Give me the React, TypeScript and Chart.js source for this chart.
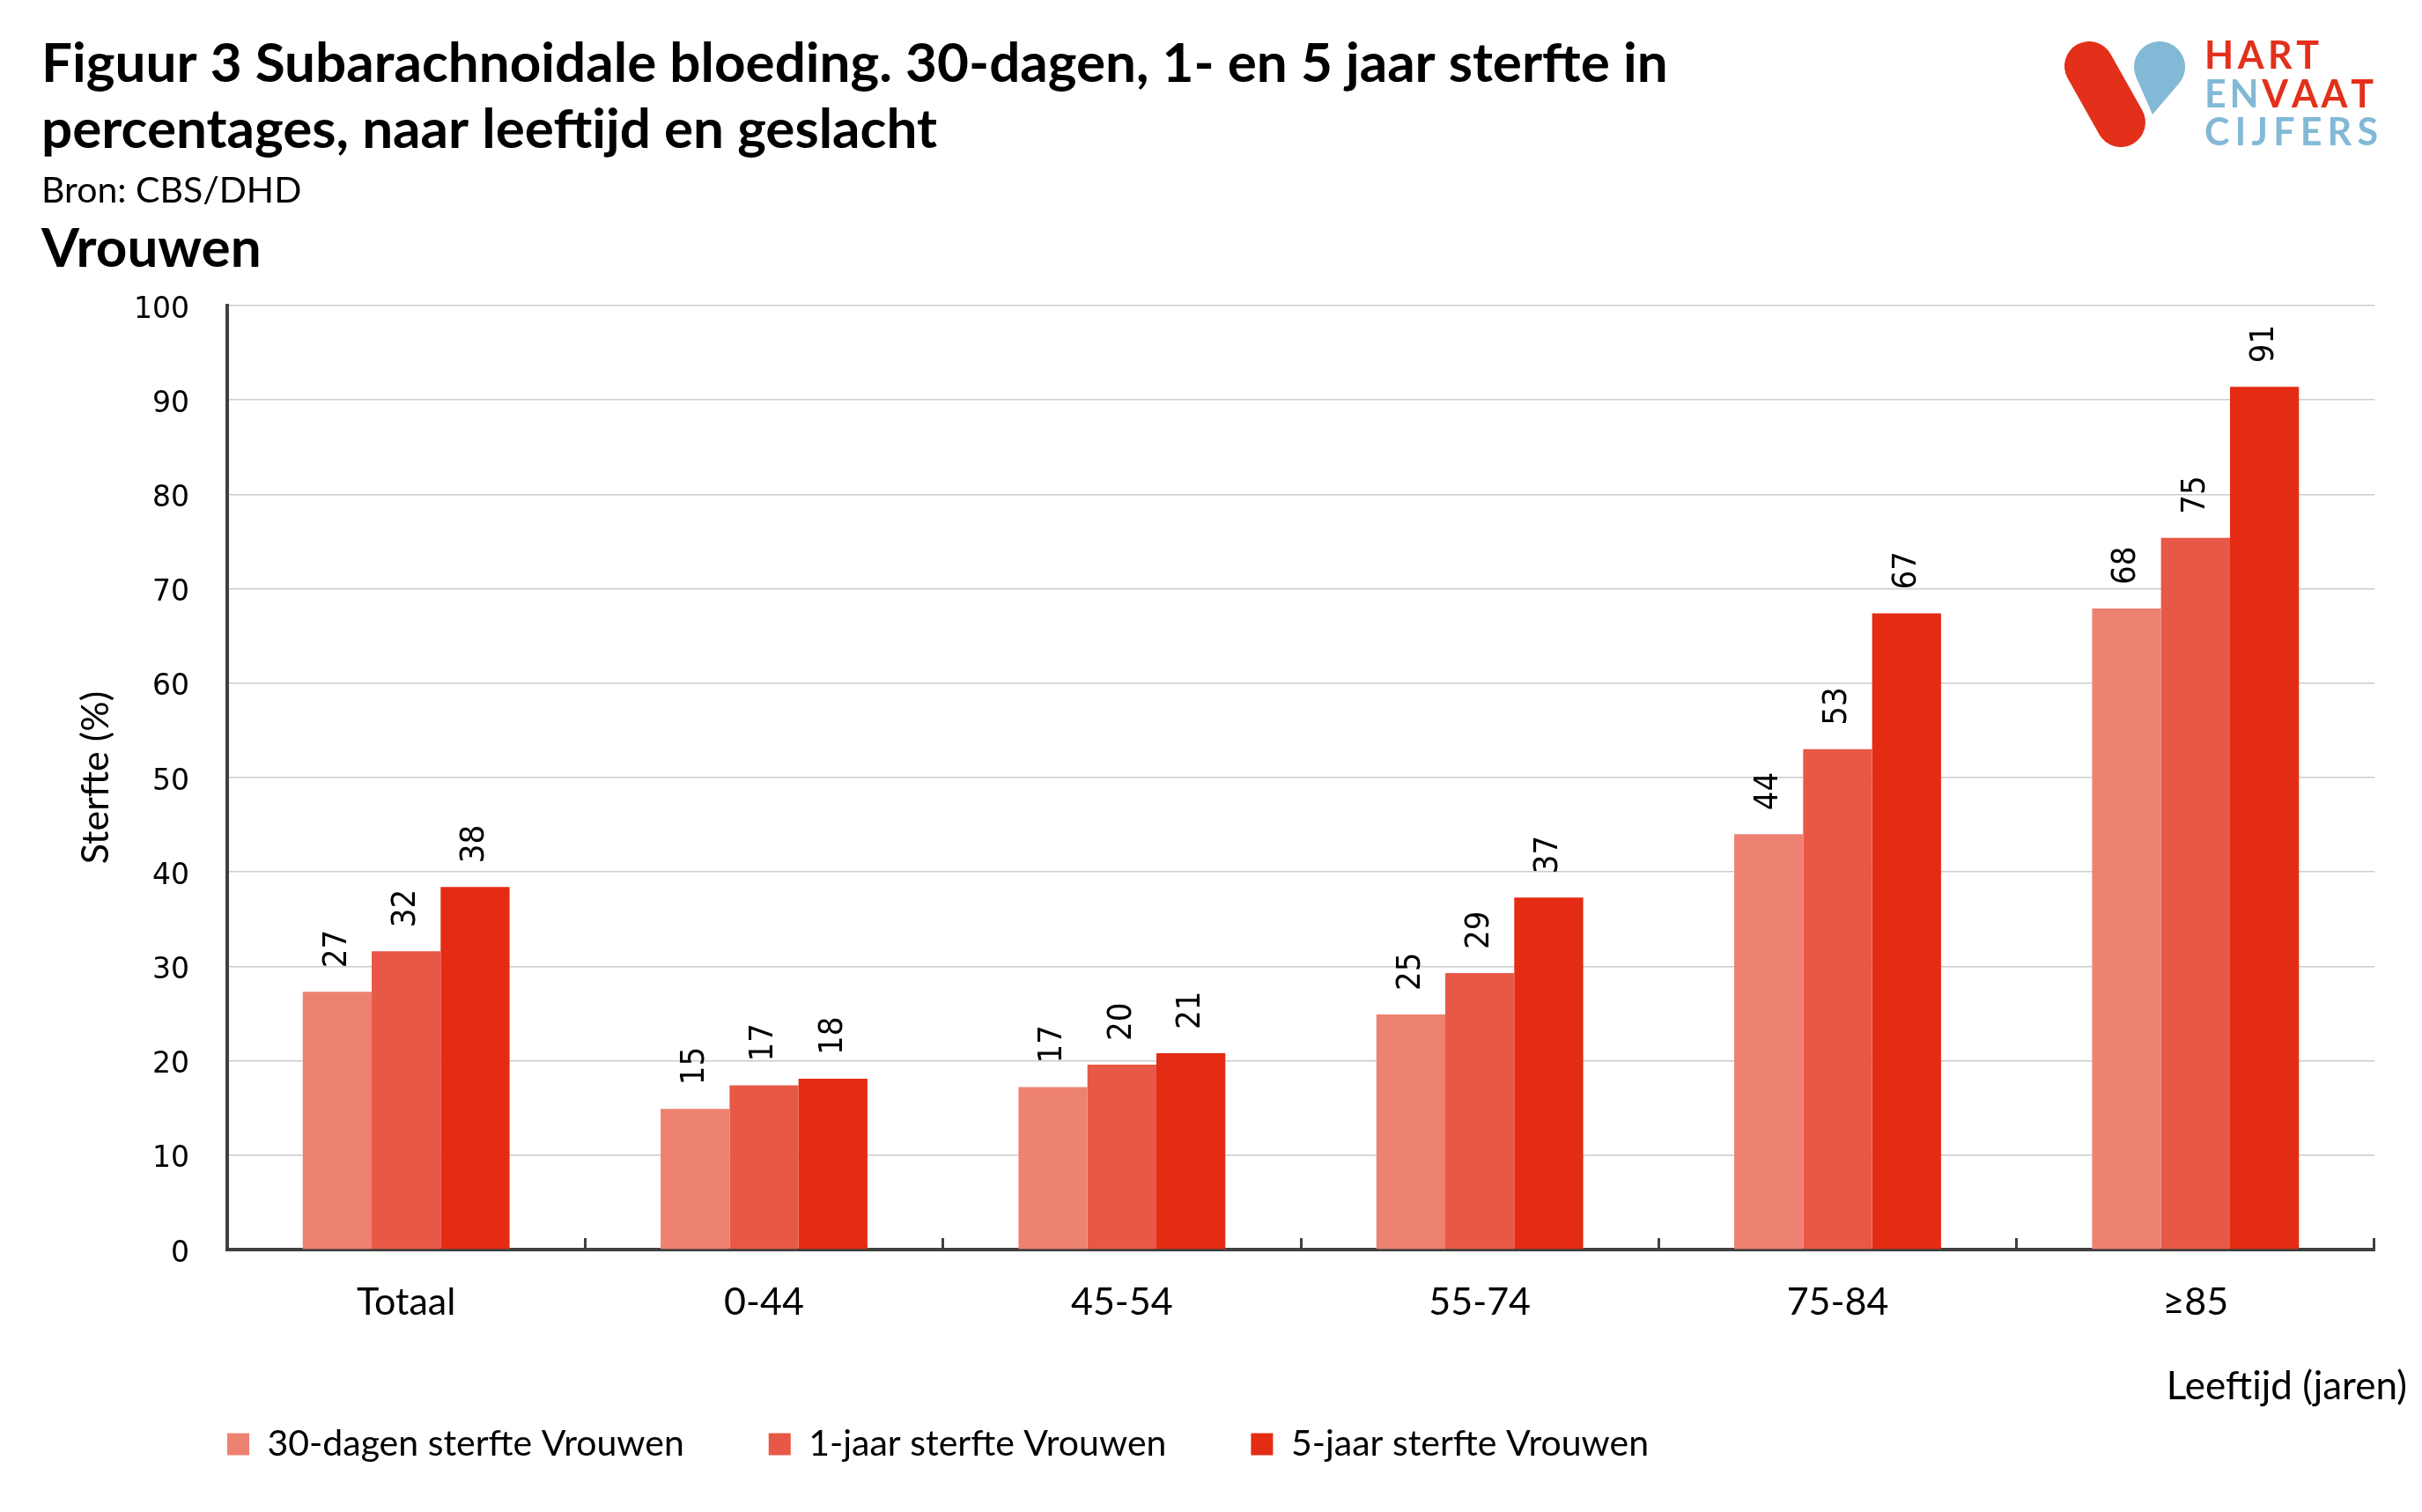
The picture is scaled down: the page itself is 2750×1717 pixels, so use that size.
import React, { useEffect, useRef } from 'react';
import { Chart, registerables } from 'chart.js';

Chart.register(...registerables);

const titleLines = [
  'Figuur 3 Subarachnoidale bloeding. 30-dagen, 1- en 5 jaar sterfte in',
  'percentages, naar leeftijd en geslacht',
];
const sourceText = 'Bron: CBS/DHD';
const subTitle = 'Vrouwen';
const yAxisTitle = 'Sterfte (%)';
const xAxisTitle = 'Leeftijd (jaren)';

const categories = ['Totaal', '0-44', '45-54', '55-74', '75-84', '≥85'];
const sterfte30Dagen = [27.3, 14.9, 17.2, 24.9, 44.0, 67.9];
const sterfte1Jaar = [31.6, 17.4, 19.6, 29.3, 53.0, 75.4];
const sterfte5Jaar = [38.4, 18.1, 20.8, 37.3, 67.4, 91.4];
const seriesLabels = ['30-dagen sterfte Vrouwen', '1-jaar sterfte Vrouwen', '5-jaar sterfte Vrouwen'];
const seriesColors = ['#EE8272', '#E85846', '#E42C14'];

const FONT = 'Lato, "Open Sans", sans-serif';
const NUM_FONT = '"DejaVu Sans", sans-serif';
const LABEL_FONT = '"DejaVu Sans Condensed", "DejaVu Sans", sans-serif';

const LEGEND_FONT_SIZE = 41;
const LEGEND_PADDING = 96;

function drawSpaced(ctx: CanvasRenderingContext2D, parts: [string, string][], x: number, baseline: number, width: number) {
  const chars: [string, string][] = [];
  parts.forEach(([t, c]) => t.split('').forEach((ch) => chars.push([ch, c])));
  const widths = chars.map(([ch]) => ctx.measureText(ch).width);
  const total = widths.reduce((a, b) => a + b, 0);
  const gap = chars.length > 1 ? (width - total) / (chars.length - 1) : 0;
  let cx = x;
  chars.forEach(([ch, c], i) => {
    ctx.fillStyle = c;
    ctx.fillText(ch, cx, baseline);
    cx += widths[i] + gap;
  });
}

const headerPlugin = {
  id: 'header',
  afterDraw(chart: any) {
    const ctx: CanvasRenderingContext2D = chart.ctx;
    ctx.save();
    ctx.textAlign = 'left';
    ctx.textBaseline = 'alphabetic';
    ctx.fillStyle = '#000';
    ctx.font = `bold 62px ${FONT}`;
    ctx.fillText(titleLines[0], 47, 93);
    ctx.fillText(titleLines[1], 47, 168);
    ctx.font = `41px ${FONT}`;
    ctx.fillText(sourceText, 47, 230);
    ctx.font = `bold 62px ${FONT}`;
    ctx.fillText(subTitle, 47, 303);

    // x axis title
    ctx.font = `44px ${FONT}`;
    ctx.textAlign = 'right';
    ctx.fillText(xAxisTitle, 2733, 1589);

    // logo
    const red = '#E3301B';
    const blue = '#82B9D6';
    ctx.strokeStyle = red;
    ctx.lineCap = 'round';
    ctx.lineWidth = 56;
    ctx.beginPath();
    ctx.moveTo(2372, 75);
    ctx.lineTo(2408, 139);
    ctx.stroke();

    const cx = 2452, cy = 76, r = 29, tx = 2444, ty = 130;
    const dx = tx - cx, dy = ty - cy;
    const d = Math.sqrt(dx * dx + dy * dy);
    const base = Math.atan2(dy, dx);
    const off = Math.PI / 2 - Math.asin(r / d);
    ctx.fillStyle = blue;
    ctx.beginPath();
    ctx.moveTo(tx, ty);
    ctx.arc(cx, cy, r, base + off, base - off + Math.PI * 2, false);
    ctx.closePath();
    ctx.fill();

    ctx.textAlign = 'left';
    ctx.font = `bold 43px ${FONT}`;
    drawSpaced(ctx, [['HART', red]], 2503, 78, 130);
    drawSpaced(ctx, [['EN', blue], ['VAAT', red]], 2503, 122, 192);
    drawSpaced(ctx, [['CIJFERS', blue]], 2503, 165, 197);
    ctx.restore();
  },
};

const valueLabelPlugin = {
  id: 'valueLabels',
  afterDatasetsDraw(chart: any) {
    const ctx: CanvasRenderingContext2D = chart.ctx;
    chart.data.datasets.forEach((ds: any, i: number) => {
      const meta = chart.getDatasetMeta(i);
      meta.data.forEach((bar: any, j: number) => {
        const v = ds.data[j];
        ctx.save();
        ctx.translate(bar.x, bar.y - 27);
        ctx.rotate(-Math.PI / 2);
        ctx.font = `38px ${LABEL_FONT}`;
        ctx.fillStyle = '#000';
        ctx.textAlign = 'left';
        ctx.textBaseline = 'middle';
        ctx.fillText(String(Math.round(v)), 0, 0);
        ctx.restore();
      });
    });
  },
};

const legendShiftPlugin = {
  id: 'legendShift',
  afterLayout(chart: any) {
    const l = chart.legend;
    if (!l) return;
    const dx = 258 - (l.left + LEGEND_PADDING);
    l.left += dx;
    l.right += dx;
    const dy = (1640 - LEGEND_PADDING - LEGEND_FONT_SIZE / 2) - l.top;
    l.top += dy;
    l.bottom += dy;
  },
};

export default function App() {
  const ref = useRef<HTMLCanvasElement | null>(null);

  useEffect(() => {
    document.body.style.margin = '0';
    document.body.style.overflow = 'hidden';
    const canvas = ref.current;
    if (!canvas) return;
    const chart = new Chart(canvas, {
      type: 'bar',
      data: {
        labels: categories,
        datasets: [
          { label: seriesLabels[0], data: sterfte30Dagen, backgroundColor: seriesColors[0], borderWidth: 0 },
          { label: seriesLabels[1], data: sterfte1Jaar, backgroundColor: seriesColors[1], borderWidth: 0 },
          { label: seriesLabels[2], data: sterfte5Jaar, backgroundColor: seriesColors[2], borderWidth: 0 },
        ],
      },
      options: {
        responsive: false,
        animation: false,
        devicePixelRatio: 1,
        layout: { padding: { left: 47, right: 54, top: 347, bottom: 41 } },
        datasets: { bar: { categoryPercentage: 0.578, barPercentage: 1.0 } },
        plugins: {
          legend: {
            position: 'bottom',
            align: 'start',
            labels: {
              boxWidth: 25,
              boxHeight: 25,
              padding: LEGEND_PADDING,
              color: '#000',
              font: { family: FONT, size: LEGEND_FONT_SIZE },
            },
          },
          title: { display: false },
          tooltip: { enabled: false },
        },
        scales: {
          x: {
            grid: {
              display: true,
              drawOnChartArea: false,
              drawTicks: true,
              tickLength: -13,
              tickColor: '#404040',
              tickWidth: 3,
              offset: true,
            },
            border: { display: true, color: '#404040', width: 4 },
            ticks: { color: '#000', font: { family: FONT, size: 43 }, padding: 47, maxRotation: 0 },
            afterFit: (s: any) => { s.height = 110; },
          },
          y: {
            min: 0,
            max: 100,
            ticks: { stepSize: 10, color: '#000', font: { family: NUM_FONT, size: 33 }, padding: 43, labelOffset: 5 },
            grid: { color: '#CCCCCC', lineWidth: 1.5, drawTicks: false },
            border: { display: true, color: '#404040', width: 4 },
            title: {
              display: true,
              text: yAxisTitle,
              color: '#000',
              font: { family: FONT, size: 43 },
              padding: { top: 36, bottom: 0 },
            },
            afterFit: (s: any) => { s.width = 211; },
          },
        },
      },
      plugins: [headerPlugin, valueLabelPlugin, legendShiftPlugin],
    } as any);
    return () => chart.destroy();
  }, []);

  return <canvas ref={ref} width={2750} height={1717} style={{ display: 'block' }} />;
}
